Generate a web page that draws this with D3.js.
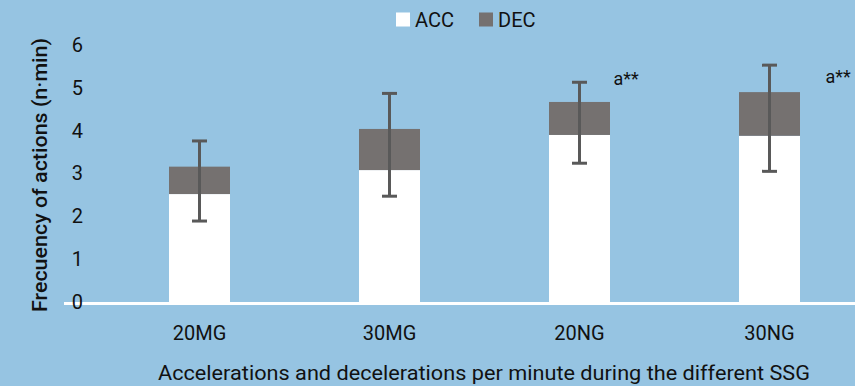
<!DOCTYPE html>
<html>
<head>
<meta charset="utf-8">
<script src="https://cdn.jsdelivr.net/npm/d3@7"></script>
<style>
  html, body { margin: 0; padding: 0; background: #96c4e2; }
  #chart { width: 855px; height: 386px; }
  text { font-family: Roboto, "Open Sans", sans-serif; fill: #111; }
</style>
</head>
<body>
<div id="chart"></div>
<script>
const categories = ["20MG", "30MG", "20NG", "30NG"];
const accValues = [2.52, 3.08, 3.90, 3.88];
const decValues = [0.64, 0.96, 0.77, 1.02];
const errHigh = [3.76, 4.87, 5.13, 5.53];
const errLow = [1.89, 2.47, 3.24, 3.05];
const notes = ["", "", "a**", "a**"];
const yTicks = [0, 1, 2, 3, 4, 5, 6];
const seriesNames = ["ACC", "DEC"];

const width = 855;
const height = 386;
const colors = { ACC: "#ffffff", DEC: "#757170" };

const svg = d3.select("#chart")
  .append("svg")
  .attr("width", width)
  .attr("height", height);

svg.append("rect")
  .attr("width", width)
  .attr("height", height)
  .attr("fill", "#96c4e2");

const xScale = d3.scaleBand()
  .domain(categories)
  .range([104.5, 864.5])
  .paddingInner(0.679)
  .paddingOuter(0.3395);

const yScale = d3.scaleLinear()
  .domain([0, 6])
  .range([302, 45]);

const rows = categories.map((c, i) => ({ cat: c, ACC: accValues[i], DEC: decValues[i] }));
const stacked = d3.stack().keys(seriesNames)(rows);

// bars
svg.selectAll(".layer")
  .data(stacked)
  .enter()
  .append("g")
  .attr("fill", (d) => colors[d.key])
  .selectAll("rect")
  .data((d) => d)
  .enter()
  .append("rect")
  .attr("x", (d) => xScale(d.data.cat))
  .attr("width", xScale.bandwidth())
  .attr("y", (d) => yScale(d[1]))
  .attr("height", (d) => yScale(d[0]) - yScale(d[1]));

// baseline
svg.append("line")
  .attr("x1", 64)
  .attr("x2", width)
  .attr("y1", yScale(0) + 1.5)
  .attr("y2", yScale(0) + 1.5)
  .attr("stroke", "#ffffff")
  .attr("stroke-width", 3);

// error bars
const errG = svg.append("g")
  .attr("stroke", "#595959")
  .attr("stroke-width", 3);

categories.forEach((c, i) => {
  const cx = xScale(c) + xScale.bandwidth() / 2;
  errG.append("line")
    .attr("x1", cx).attr("x2", cx)
    .attr("y1", yScale(errHigh[i])).attr("y2", yScale(errLow[i]));
  [errHigh[i], errLow[i]].forEach((v) => {
    errG.append("line")
      .attr("x1", cx - 7.5).attr("x2", cx + 7.5)
      .attr("y1", yScale(v)).attr("y2", yScale(v));
  });
});

// annotations
const noteDx = [0, 0, 34, 56];
categories.forEach((c, i) => {
  if (!notes[i]) return;
  svg.append("text")
    .attr("x", xScale(c) + xScale.bandwidth() / 2 + noteDx[i])
    .attr("y", yScale(errHigh[i]) + (i === 2 ? 3 : 18))
    .style("font-size", "18px")
    .text(notes[i]);
});

// y axis ticks
const yAxis = svg.append("g")
  .attr("transform", "translate(83,0)")
  .call(d3.axisLeft(yScale).tickValues(yTicks).tickFormat(d3.format("d")).tickSize(0).tickPadding(0));
yAxis.select(".domain").remove();
yAxis.selectAll("text")
  .style("font-size", "20px")
  .style("font-family", "Roboto, sans-serif")
  .attr("fill", "#111");

// x axis labels
const xAxis = svg.append("g")
  .attr("transform", "translate(0,333)")
  .call(d3.axisBottom(xScale).tickSize(0).tickPadding(0));
xAxis.select(".domain").remove();
xAxis.selectAll("text")
  .attr("dy", "0.35em")
  .style("font-size", "20px")
  .style("font-family", "Roboto, sans-serif")
  .attr("fill", "#111");

// axis titles
svg.append("text")
  .attr("text-anchor", "middle")
  .attr("x", 484)
  .attr("y", 380)
  .attr("textLength", 652)
  .attr("lengthAdjust", "spacingAndGlyphs")
  .style("font-size", "21px")
  .text("Accelerations and decelerations per minute during the different SSG");

svg.append("text")
  .attr("text-anchor", "middle")
  .attr("transform", "translate(47,175) rotate(-90)")
  .attr("textLength", 274)
  .attr("lengthAdjust", "spacingAndGlyphs")
  .style("font-size", "20px")
  .style("font-weight", 500)
  .text("Frecuency of actions (n·min)");

// legend
const legend = svg.append("g");
const legendX = [396, 479];
seriesNames.forEach((name, i) => {
  legend.append("rect")
    .attr("x", legendX[i])
    .attr("y", 12.5)
    .attr("width", 14)
    .attr("height", 14)
    .attr("fill", colors[name]);
  legend.append("text")
    .attr("x", legendX[i] + 19)
    .attr("y", 27)
    .style("font-size", "20px")
    .text(name);
});
</script>
</body>
</html>
